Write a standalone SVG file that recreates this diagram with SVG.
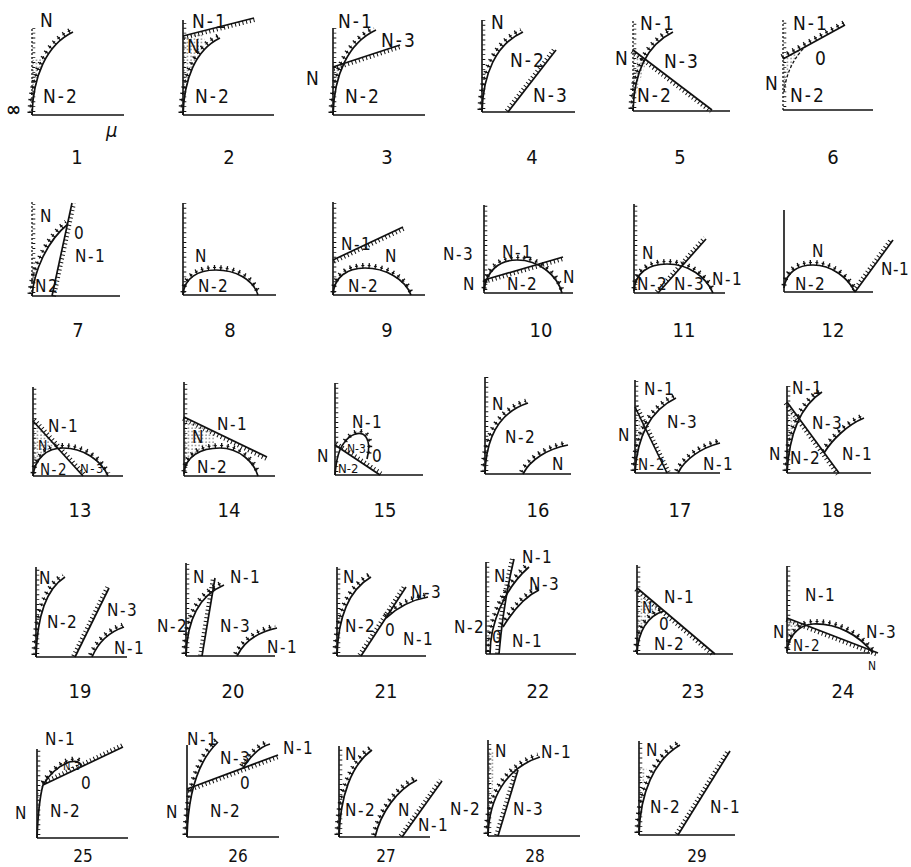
<svg xmlns="http://www.w3.org/2000/svg" width="911" height="867" viewBox="0 0 911 867">
<defs>
<style>
.ax{fill:none;stroke:#111;stroke-width:1.6}
.ad{fill:none;stroke:#111;stroke-width:1.3;stroke-dasharray:2 2}
.yt{fill:none;stroke:#111;stroke-width:3;stroke-dasharray:0.9 4}
.l{fill:none;stroke:#111;stroke-width:1.7}
.ld{fill:none;stroke:#111;stroke-width:1.3;stroke-dasharray:3 2}
.h{fill:none;stroke:#111;stroke-width:4;stroke-dasharray:1 2.8}
.c{fill:none;stroke:#111;stroke-width:5;stroke-dasharray:1.3 5}
.cb{fill:none;stroke:#111;stroke-width:1.1;stroke-dasharray:3 3.3;stroke-dashoffset:0.85}
.s{fill:url(#dt);stroke:none}
text{font-family:"Liberation Sans Narrow","DejaVu Sans Condensed","Liberation Sans",sans-serif;fill:#111}
.t{font-size:17px;letter-spacing:1.5px}
.t1{font-size:19px;letter-spacing:2px}
.n{font-size:20px;text-anchor:middle}
</style>
<pattern id="dt" width="3.5" height="3.5" patternUnits="userSpaceOnUse"><circle cx="1" cy="1" r="0.6" fill="#111"/></pattern>
</defs>
<rect width="911" height="867" fill="#fff"/>

<g id="p1" transform="translate(32,115)">
<path class="s" d="M0,-5 L0,-55 L12,-57 L7,-42 L3,-25 Z"/>
<path class="ax" d="M0,0 H92"/><path class="ad" d="M0,0 V-87"/><path class="yt" d="M1.8,-3 V-87"/>
<path class="l" d="M0,0 C1,-38 14,-70 41,-83"/>
<g transform="translate(-2,-2)"><path class="c" d="M0,0 C1,-38 14,-70 41,-83"/><path class="cb" d="M0,0 C1,-38 14,-70 41,-83"/></g>
<text class="t1" x="8" y="-88">N</text><text class="t1" x="11" y="-12">N-2</text>
<text x="-26" y="1" style="font-size:20px;font-weight:bold">∞</text><text x="74" y="22" style="font-size:20px;font-style:italic">μ</text>
</g>

<g id="p2" transform="translate(183,115)">
<path class="s" d="M0,-5 L0,-79 L20,-84 L22,-72 L9,-48 L2,-20 Z"/>
<path class="ax" d="M0,0 H91 M0,0 V-95"/><path class="yt" d="M1.8,-3 V-95"/>
<path class="l" d="M0,-79 L71,-97"/><path class="h" d="M0,-79 L71,-97" transform="translate(0.5,2)"/>
<path class="l" d="M0,0 C1,-35 12,-65 37,-77"/>
<g transform="translate(-2,-2)"><path class="c" d="M0,0 C1,-35 12,-65 37,-77"/><path class="cb" d="M0,0 C1,-35 12,-65 37,-77"/></g>
<text class="t1" x="9" y="-87">N-1</text><text class="t1" x="4" y="-62">N</text><text class="t1" x="12" y="-12">N-2</text>
</g>

<g id="p3" transform="translate(333,115)">
<path class="s" d="M0,-47 L10,-51 L4,-35 L1,-25 Z"/>
<path class="ax" d="M0,0 H92 M0,0 V-87"/><path class="yt" d="M1.8,-3 V-87"/>
<path class="l" d="M0,0 C1,-40 15,-72 43,-85"/>
<g transform="translate(-2,-2)"><path class="c" d="M0,0 C1,-40 15,-72 43,-85"/><path class="cb" d="M0,0 C1,-40 15,-72 43,-85"/></g>
<path class="l" d="M0,-48 L67,-70"/><path class="h" d="M0,-48 L67,-70" transform="translate(0.6,1.9)"/>
<text class="t1" x="5" y="-87">N-1</text><text class="t1" x="48" y="-68">N-3</text><text class="t1" x="-27" y="-30">N</text><text class="t1" x="12" y="-12">N-2</text>
</g>

<g id="p4" transform="translate(482,112)">
<path class="ax" d="M0,0 H93 M0,0 V-92"/><path class="yt" d="M1.8,-3 V-92"/>
<path class="l" d="M0,0 C1,-38 14,-68 41,-80"/>
<g transform="translate(-2,-2)"><path class="c" d="M0,0 C1,-38 14,-68 41,-80"/><path class="cb" d="M0,0 C1,-38 14,-68 41,-80"/></g>
<path class="l" d="M26,0 L74,-62"/><path class="h" d="M26,0 L74,-62" transform="translate(-1.6,-1.2)"/>
<text class="t1" x="9" y="-83">N</text><text class="t1" x="28" y="-45">N-2</text><text class="t1" x="51" y="-10">N-3</text>
</g>

<g id="p5" transform="translate(633,111)">
<path class="s" d="M0,-5 L0,-61 L14,-51 L7,-30 L2,-12 Z"/>
<path class="ax" d="M0,0 H97"/><path class="ad" d="M0,0 V-91"/><path class="yt" d="M1.8,-3 V-91"/>
<path class="l" d="M0,0 C1,-38 14,-66 40,-79"/>
<g transform="translate(-2,-2)"><path class="c" d="M0,0 C1,-38 14,-66 40,-79"/><path class="cb" d="M0,0 C1,-38 14,-66 40,-79"/></g>
<path class="l" d="M0,-61 L79,-1"/><path class="h" d="M0,-61 L79,-1" transform="translate(-1.2,1.6)"/>
<text class="t1" x="7" y="-81">N-1</text><text class="t1" x="-18" y="-46">N</text><text class="t1" x="31" y="-43">N-3</text><text class="t1" x="4" y="-9">N-2</text>
</g>

<g id="p6" transform="translate(783,110)">
<path class="s" d="M0,-51 L22,-63 Q4,-45 1,-18 Z"/>
<path class="ax" d="M0,0 H90"/><path class="ad" d="M0,0 V-90"/><path class="yt" d="M1.8,-3 V-90"/>
<path class="l" d="M0,-51 L62,-85"/>
<g transform="translate(-1.2,-2.2)"><path class="c" d="M0,-51 L62,-85"/><path class="cb" d="M0,-51 L62,-85"/></g>
<path class="ld" d="M1,-18 Q4,-45 22,-63"/>
<text class="t1" x="10" y="-80">N-1</text><text class="t1" x="32" y="-45">0</text><text class="t1" x="-18" y="-20">N</text><text class="t1" x="7" y="-8">N-2</text>
</g>

<g id="p7" transform="translate(32,296)">
<path class="s" d="M0,-3 L0,-30 L5,-25 L3,-10 Z"/>
<path class="ax" d="M0,0 H88"/><path class="ad" d="M0,0 V-94"/><path class="yt" d="M1.8,-3 V-94"/>
<path class="l" d="M20,0 L40,-93"/><path class="h" d="M20,0 L40,-93" transform="translate(2,0.4)"/>
<path class="l" d="M0,0 C2,-25 15,-55 36,-72"/>
<g transform="translate(-2,-2)"><path class="c" d="M0,0 C2,-25 15,-55 36,-72"/><path class="cb" d="M0,0 C2,-25 15,-55 36,-72"/></g>
<text class="t" x="8" y="-74">N</text><text class="t" x="42" y="-57">0</text><text class="t" x="43" y="-34">N-1</text><text class="t" x="3" y="-4">N2</text>
</g>

<g id="p8" transform="translate(183,295)">
<path class="ax" d="M0,0 H93 M0,0 V-92"/><path class="yt" d="M1.8,-3 V-92"/>
<path class="l" d="M0,0 C1,-17 15,-25 33,-25 C52,-25 70,-16 75,0"/>
<g transform="translate(0,-2.5)"><path class="c" d="M0,0 C1,-17 15,-25 33,-25 C52,-25 70,-16 75,0"/><path class="cb" d="M0,0 C1,-17 15,-25 33,-25 C52,-25 70,-16 75,0"/></g>
<text class="t" x="12" y="-33">N</text><text class="t" x="15" y="-3">N-2</text>
</g>

<g id="p9" transform="translate(333,295)">
<path class="ax" d="M0,0 H92 M0,0 V-93"/><path class="yt" d="M1.8,-3 V-93"/>
<path class="l" d="M0,-35 L70,-68"/><path class="h" d="M0,-35 L70,-68" transform="translate(0.9,1.8)"/>
<path class="l" d="M0,0 C1,-18 14,-27 32,-27 C52,-27 72,-16 78,0"/>
<g transform="translate(0,-2.5)"><path class="c" d="M0,0 C1,-18 14,-27 32,-27 C52,-27 72,-16 78,0"/><path class="cb" d="M0,0 C1,-18 14,-27 32,-27 C52,-27 72,-16 78,0"/></g>
<text class="t" x="8" y="-45">N-1</text><text class="t" x="52" y="-33">N</text><text class="t" x="15" y="-3">N-2</text>
</g>

<g id="p10" transform="translate(484,293)">
<path class="ax" d="M0,0 H89 M0,0 V-88"/><path class="yt" d="M1.8,-3 V-88"/>
<path class="l" d="M0,-2 C2,-22 15,-33 33,-33 C55,-33 73,-18 78,0"/>
<g transform="translate(0,-2.5)"><path class="c" d="M0,-2 C2,-22 15,-33 33,-33 C55,-33 73,-18 78,0"/><path class="cb" d="M0,-2 C2,-22 15,-33 33,-33 C55,-33 73,-18 78,0"/></g>
<path class="l" d="M0,-13 L79,-36"/><path class="h" d="M0,-13 L79,-36" transform="translate(0.6,1.9)"/>
<text class="t" x="18" y="-35">N-1</text><text class="t" x="23" y="-3">N-2</text><text class="t" x="79" y="-10">N</text><text class="t" x="-21" y="-3">N</text><text class="t" x="-41" y="-33">N-3</text>
</g>

<g id="p11" transform="translate(634,293)">
<path class="ax" d="M0,0 H91 M0,0 V-89"/><path class="yt" d="M1.8,-3 V-89"/>
<path class="l" d="M0,-2 C1,-20 14,-29 33,-29 C55,-29 72,-16 79,0"/>
<g transform="translate(0,-2.5)"><path class="c" d="M0,-2 C1,-20 14,-29 33,-29 C55,-29 72,-16 79,0"/><path class="cb" d="M0,-2 C1,-20 14,-29 33,-29 C55,-29 72,-16 79,0"/></g>
<path class="l" d="M24,0 L72,-54"/><path class="h" d="M24,0 L72,-54" transform="translate(-1.5,-1.3)"/>
<text class="t" x="8" y="-34">N</text><text class="t" x="3" y="-3">N-2</text><text class="t" x="40" y="-3">N-3</text><text class="t" x="78" y="-8">N-1</text>
</g>

<g id="p12" transform="translate(784,292)">
<path class="ax" d="M0,0 H89 M0,0 V-82"/>
<path class="l" d="M0,-4 C2,-20 14,-27 29,-27 C48,-27 64,-14 71,0"/>
<g transform="translate(0,-2.5)"><path class="c" d="M0,-4 C2,-20 14,-27 29,-27 C48,-27 64,-14 71,0"/><path class="cb" d="M0,-4 C2,-20 14,-27 29,-27 C48,-27 64,-14 71,0"/></g>
<path class="l" d="M71,0 L109,-52"/><path class="h" d="M71,0 L109,-52" transform="translate(-1.6,-1.2)"/>
<text class="t" x="28" y="-35">N</text><text class="t" x="11" y="-2">N-2</text><text class="t" x="97" y="-17" style="letter-spacing:0.5px">N-1</text>
</g>

<g id="p13" transform="translate(33,476)">
<path class="s" d="M0,-55 L25,-27.5 C12,-27 3,-20 0,-3 Z"/>
<path class="ax" d="M0,0 H90 M0,0 V-89"/><path class="yt" d="M1.8,-3 V-89"/>
<path class="l" d="M0,-55 L50,0"/><path class="h" d="M0,-55 L50,0" transform="translate(1.5,-1.4)"/>
<path class="l" d="M0,0 C2,-18 14,-28 30,-28 C50,-28 68,-16 75,0"/>
<g transform="translate(0,-2.5)"><path class="c" d="M0,0 C2,-18 14,-28 30,-28 C50,-28 68,-16 75,0"/><path class="cb" d="M0,0 C2,-18 14,-28 30,-28 C50,-28 68,-16 75,0"/></g>
<text class="t" x="15" y="-44">N-1</text><text class="t" x="5" y="-26" style="font-size:14px">N</text><text class="t" x="7" y="-1" style="font-size:15px">N-2</text><text class="t" x="47" y="-3" style="font-size:13px">N-3</text>
</g>

<g id="p14" transform="translate(184,476)">
<path class="s" d="M0,-59 L30,-44.5 L30,-29 C15,-27 2,-20 0,-3 Z"/>
<path class="ax" d="M0,0 H91 M0,0 V-94"/><path class="yt" d="M1.8,-3 V-94"/>
<path class="l" d="M0,-59 L83,-19"/><path class="h" d="M0,-59 L83,-19" transform="translate(-0.9,1.8)"/>
<path class="l" d="M0,-2 C1,-20 17,-28 36,-28 C55,-28 70,-14 74,0"/>
<g transform="translate(0,-2.5)"><path class="c" d="M0,-2 C1,-20 17,-28 36,-28 C55,-28 70,-14 74,0"/><path class="cb" d="M0,-2 C1,-20 17,-28 36,-28 C55,-28 70,-14 74,0"/></g>
<text class="t" x="33" y="-46">N-1</text><text class="t" x="8" y="-33">N</text><text class="t" x="13" y="-3">N-2</text>
</g>

<g id="p15" transform="translate(335,475)">
<path class="ax" d="M0,0 H88 M0,0 V-92"/><path class="yt" d="M1.8,-3 V-92"/>
<path class="l" d="M0,-30 L45,0"/><path class="h" d="M0,-30 L45,0" transform="translate(1.1,-1.7)"/>
<path class="l" d="M0,0 C1,-14 4,-26 9,-32"/>
<path class="l" d="M9,-32 C15,-41 26,-45 31,-38 C35,-33 34,-24 32,-16"/>
<g transform="translate(1,-2)"><path class="c" d="M9,-32 C15,-41 26,-45 31,-38 C35,-33 34,-24 32,-16"/><path class="cb" d="M9,-32 C15,-41 26,-45 31,-38 C35,-33 34,-24 32,-16"/></g>
<text class="t" x="17" y="-47">N-1</text><text class="t" x="12" y="-22" style="font-size:12px;letter-spacing:0">N-3</text><text class="t" x="37" y="-13">0</text><text class="t" x="-18" y="-13">N</text><text class="t" x="3" y="-2" style="font-size:13px;letter-spacing:0">N-2</text>
</g>

<g id="p16" transform="translate(485,474)">
<path class="ax" d="M0,0 H86 M0,0 V-97"/><path class="yt" d="M1.8,-3 V-97"/>
<path class="l" d="M0,0 C1,-38 15,-62 43,-71"/>
<g transform="translate(-2,-2)"><path class="c" d="M0,0 C1,-38 15,-62 43,-71"/><path class="cb" d="M0,0 C1,-38 15,-62 43,-71"/></g>
<path class="l" d="M38,0 C45,-14 62,-25 83,-29"/>
<g transform="translate(-1.5,-2)"><path class="c" d="M38,0 C45,-14 62,-25 83,-29"/><path class="cb" d="M38,0 C45,-14 62,-25 83,-29"/></g>
<text class="t" x="7" y="-64">N</text><text class="t" x="20" y="-31">N-2</text><text class="t" x="67" y="-4">N</text>
</g>

<g id="p17" transform="translate(635,473)">
<path class="s" d="M0,-66 L11,-43 C5,-30 1,-15 0,-3 Z"/>
<path class="ax" d="M0,0 H85 M0,0 V-93"/><path class="yt" d="M1.8,-3 V-93"/>
<path class="l" d="M0,0 C2,-35 14,-62 41,-75"/>
<g transform="translate(-2,-2)"><path class="c" d="M0,0 C2,-35 14,-62 41,-75"/><path class="cb" d="M0,0 C2,-35 14,-62 41,-75"/></g>
<path class="l" d="M0,-66 L32,0"/><path class="h" d="M0,-66 L32,0" transform="translate(1.8,-0.9)"/>
<path class="l" d="M43,0 C50,-14 66,-25 85,-30"/>
<g transform="translate(-1.5,-2)"><path class="c" d="M43,0 C50,-14 66,-25 85,-30"/><path class="cb" d="M43,0 C50,-14 66,-25 85,-30"/></g>
<text class="t" x="9" y="-78">N-1</text><text class="t" x="32" y="-45">N-3</text><text class="t" x="-17" y="-32">N</text><text class="t" x="3" y="-3" style="font-size:15px">N-2</text><text class="t" x="68" y="-3">N-1</text>
</g>

<g id="p18" transform="translate(787,473)">
<path class="s" d="M0,-71 L12,-55 C6,-42 1,-20 0,-3 Z"/>
<path class="ax" d="M0,0 H84 M0,0 V-87"/><path class="yt" d="M1.8,-3 V-87"/>
<path class="l" d="M0,0 C2,-35 12,-66 35,-81"/>
<g transform="translate(-2,-2)"><path class="c" d="M0,0 C2,-35 12,-66 35,-81"/><path class="cb" d="M0,0 C2,-35 12,-66 35,-81"/></g>
<path class="l" d="M0,-71 L52,0"/><path class="h" d="M0,-71 L52,0" transform="translate(-1.6,1.2)"/>
<path class="l" d="M37,-20 C45,-33 60,-48 77,-55"/>
<g transform="translate(-1.5,-2)"><path class="c" d="M37,-20 C45,-33 60,-48 77,-55"/><path class="cb" d="M37,-20 C45,-33 60,-48 77,-55"/></g>
<text class="t" x="5" y="-79">N-1</text><text class="t" x="25" y="-44">N-3</text><text class="t" x="-18" y="-13">N</text><text class="t" x="3" y="-9">N-2</text><text class="t" x="55" y="-13">N-1</text>
</g>

<g id="p19" transform="translate(36,657)">
<path class="ax" d="M0,0 H91 M0,0 V-90"/><path class="yt" d="M1.8,-3 V-90"/>
<path class="l" d="M0,0 C1,-40 10,-68 29,-80"/>
<g transform="translate(-2,-2)"><path class="c" d="M0,0 C1,-40 10,-68 29,-80"/><path class="cb" d="M0,0 C1,-40 10,-68 29,-80"/></g>
<path class="l" d="M39,0 L73,-69"/><path class="h" d="M39,0 L73,-69" transform="translate(-1.8,-0.9)"/>
<path class="l" d="M56,0 C62,-14 73,-25 88,-30"/>
<g transform="translate(-1.5,-2)"><path class="c" d="M56,0 C62,-14 73,-25 88,-30"/><path class="cb" d="M56,0 C62,-14 73,-25 88,-30"/></g>
<text class="t" x="3" y="-73">N</text><text class="t" x="11" y="-29">N-2</text><text class="t" x="71" y="-41">N-3</text><text class="t" x="78" y="-3">N-1</text>
</g>

<g id="p20" transform="translate(186,656)">
<path class="ax" d="M0,0 H89 M0,0 V-93"/><path class="yt" d="M1.8,-3 V-93"/>
<path class="l" d="M0,0 C1,-35 12,-60 38,-71"/>
<g transform="translate(-2,-2)"><path class="c" d="M0,0 C1,-35 12,-60 38,-71"/><path class="cb" d="M0,0 C1,-35 12,-60 38,-71"/></g>
<path class="l" d="M16,0 L29,-78"/><path class="h" d="M16,0 L29,-78" transform="translate(-2,-0.3)"/>
<path class="l" d="M51,0 C58,-14 72,-24 91,-28"/>
<g transform="translate(-1.5,-2)"><path class="c" d="M51,0 C58,-14 72,-24 91,-28"/><path class="cb" d="M51,0 C58,-14 72,-24 91,-28"/></g>
<text class="t" x="7" y="-73">N</text><text class="t" x="44" y="-73">N-1</text><text class="t" x="-29" y="-24">N-2</text><text class="t" x="34" y="-24">N-3</text><text class="t" x="81" y="-3">N-1</text>
</g>

<g id="p21" transform="translate(337,656)">
<path class="ax" d="M0,0 H89 M0,0 V-89"/><path class="yt" d="M1.8,-3 V-89"/>
<path class="l" d="M0,0 C1,-40 12,-66 34,-79"/>
<g transform="translate(-2,-2)"><path class="c" d="M0,0 C1,-40 12,-66 34,-79"/><path class="cb" d="M0,0 C1,-40 12,-66 34,-79"/></g>
<path class="l" d="M24,0 L69,-69"/><path class="h" d="M24,0 L69,-69" transform="translate(-1.7,-1.1)"/>
<path class="l" d="M49,-38 C60,-48 74,-56 91,-59"/>
<g transform="translate(-1,-2.2)"><path class="c" d="M49,-38 C60,-48 74,-56 91,-59"/><path class="cb" d="M49,-38 C60,-48 74,-56 91,-59"/></g>
<text class="t" x="6" y="-73">N</text><text class="t" x="74" y="-58">N-3</text><text class="t" x="8" y="-24">N-2</text><text class="t" x="48" y="-20">0</text><text class="t" x="66" y="-11">N-1</text>
</g>

<g id="p22" transform="translate(486,654)">
<path class="ax" d="M0,0 H90 M0,0 V-92"/><path class="yt" d="M1.8,-3 V-92"/>
<path class="l" d="M13,0 C16,-35 22,-70 28,-95"/><path class="h" d="M13,0 C16,-35 22,-70 28,-95" transform="translate(-2,-0.3)"/>
<path class="l" d="M4,0 C4,-30 18,-65 43,-87"/>
<g transform="translate(-2,-2)"><path class="c" d="M4,0 C4,-30 18,-65 43,-87"/><path class="cb" d="M4,0 C4,-30 18,-65 43,-87"/></g>
<path class="l" d="M17,-27 C28,-45 40,-58 53,-64"/>
<g transform="translate(-1.5,-2)"><path class="c" d="M17,-27 C28,-45 40,-58 53,-64"/><path class="cb" d="M17,-27 C28,-45 40,-58 53,-64"/></g>
<text class="t" x="8" y="-72">N</text><text class="t" x="36" y="-91">N-1</text><text class="t" x="43" y="-64">N-3</text><text class="t" x="-32" y="-21">N-2</text><text class="t" x="6" y="-11">0</text><text class="t" x="26" y="-7">N-1</text>
</g>

<g id="p23" transform="translate(637,654)">
<path class="s" d="M0,-66 L27,-43 C10,-38 1,-22 0,-3 Z"/>
<path class="ax" d="M0,0 H96 M0,0 V-89"/><path class="yt" d="M1.8,-3 V-89"/>
<path class="l" d="M0,-66 L78,0"/><path class="h" d="M0,-66 L78,0" transform="translate(-1.3,1.5)"/>
<path class="l" d="M0,0 C1,-22 10,-38 27,-43"/>
<g transform="translate(-1.5,-2)"><path class="c" d="M0,0 C1,-22 10,-38 27,-43"/><path class="cb" d="M0,0 C1,-22 10,-38 27,-43"/></g>
<text class="t" x="27" y="-51">N-1</text><text class="t" x="5" y="-41" style="font-size:15px">N</text><text class="t" x="22" y="-24">0</text><text class="t" x="17" y="-4">N-2</text>
</g>

<g id="p24" transform="translate(787,653)">
<path class="s" d="M0,-35 L20,-27.3 C10,-26 2,-16 0,-3 Z"/>
<path class="ax" d="M0,0 H83 M0,0 V-87"/><path class="yt" d="M1.8,-3 V-87"/>
<path class="l" d="M0,-35 L91,0"/><path class="h" d="M0,-35 L91,0" transform="translate(-0.7,1.9)"/>
<path class="l" d="M0,-2 C2,-18 12,-28 26,-29 C50,-30 72,-18 86,0"/>
<g transform="translate(0,-2.5)"><path class="c" d="M0,-2 C2,-18 12,-28 26,-29 C50,-30 72,-18 86,0"/><path class="cb" d="M0,-2 C2,-18 12,-28 26,-29 C50,-30 72,-18 86,0"/></g>
<text class="t" x="18" y="-52">N-1</text><text class="t" x="-14" y="-15">N</text><text class="t" x="79" y="-15">N-3</text><text class="t" x="6" y="-2" style="font-size:15px">N-2</text><text class="t" x="81" y="17" style="font-size:12px">N</text>
</g>

<g id="p25" transform="translate(37,838)">
<path class="s" d="M0,-48 L6,-53 C3,-40 1,-25 0,-10 Z"/>
<path class="ax" d="M0,0 H91 M0,0 V-89"/><path class="yt" d="M1.8,-3 V-89"/>
<path class="l" d="M0,0 C1,-25 3,-42 6,-53"/>
<path class="l" d="M6,-53 L86,-91"/><path class="h" d="M6,-53 L86,-91" transform="translate(-0.9,-1.8)"/>
<path class="l" d="M6,-53 C12,-63 22,-72 32,-76 C40,-78 45,-75 44,-71"/>
<g transform="translate(0,-2.2)"><path class="c" d="M6,-53 C12,-63 22,-72 32,-76 C40,-78 45,-75 44,-71"/><path class="cb" d="M6,-53 C12,-63 22,-72 32,-76 C40,-78 45,-75 44,-71"/></g>
<text class="t" x="8" y="-93">N-1</text><text class="t" x="26" y="-68" style="font-size:11px;letter-spacing:0">N-3</text><text class="t" x="44" y="-49">0</text><text class="t" x="-22" y="-19">N</text><text class="t" x="13" y="-21">N-2</text>
</g>

<g id="p26" transform="translate(187,837)">
<path class="s" d="M0,-48 L6,-50 C3,-35 1,-20 0,-10 Z"/>
<path class="ax" d="M0,0 H92 M0,0 V-92"/>
<path class="l" d="M0,0 C1,-40 10,-75 31,-95"/>
<g transform="translate(-2,-2)"><path class="c" d="M0,0 C1,-40 10,-75 31,-95"/><path class="cb" d="M0,0 C1,-40 10,-75 31,-95"/></g>
<path class="l" d="M0,-48 L91,-82"/><path class="h" d="M0,-48 L91,-82" transform="translate(0.7,1.9)"/>
<path class="l" d="M56,-69 C63,-80 72,-90 83,-93"/>
<g transform="translate(-1.5,-2)"><path class="c" d="M56,-69 C63,-80 72,-90 83,-93"/><path class="cb" d="M56,-69 C63,-80 72,-90 83,-93"/></g>
<text class="t" x="0" y="-92">N-1</text><text class="t" x="33" y="-73">N-3</text><text class="t" x="96" y="-83">N-1</text><text class="t" x="53" y="-48">0</text><text class="t" x="-21" y="-19">N</text><text class="t" x="23" y="-20">N-2</text>
</g>

<g id="p27" transform="translate(339,837)">
<path class="ax" d="M0,0 H91 M0,0 V-91"/><path class="yt" d="M1.8,-3 V-91"/>
<path class="l" d="M0,0 C1,-40 12,-72 33,-87"/>
<g transform="translate(-2,-2)"><path class="c" d="M0,0 C1,-40 12,-72 33,-87"/><path class="cb" d="M0,0 C1,-40 12,-72 33,-87"/></g>
<path class="l" d="M36,0 C42,-25 58,-47 78,-57"/>
<g transform="translate(-1.5,-2)"><path class="c" d="M36,0 C42,-25 58,-47 78,-57"/><path class="cb" d="M36,0 C42,-25 58,-47 78,-57"/></g>
<path class="l" d="M63,0 L103,-56"/><path class="h" d="M63,0 L103,-56" transform="translate(-1.6,-1.2)"/>
<text class="t" x="6" y="-77">N</text><text class="t" x="6" y="-21">N-2</text><text class="t" x="59" y="-21">N</text><text class="t" x="79" y="-6">N-1</text>
</g>

<g id="p28" transform="translate(488,836)">
<path class="s" d="M0,-8 L0,-85 L6,-85 L6,-60 L3,-30 Z"/>
<path class="ax" d="M0,0 H92 M0,0 V-96"/><path class="yt" d="M1.8,-3 V-96"/>
<path class="l" d="M0,0 C1,-38 18,-68 52,-79"/>
<g transform="translate(-2,-2)"><path class="c" d="M0,0 C1,-38 18,-68 52,-79"/><path class="cb" d="M0,0 C1,-38 18,-68 52,-79"/></g>
<path class="l" d="M10,0 L30,-66"/><path class="h" d="M10,0 L30,-66" transform="translate(-1.9,-0.6)"/>
<text class="t" x="7" y="-79">N</text><text class="t" x="53" y="-78">N-1</text><text class="t" x="-38" y="-21">N-2</text><text class="t" x="25" y="-21">N-3</text>
</g>

<g id="p29" transform="translate(639,835)">
<path class="s" d="M0,-35 L0,-68 L8,-68 L3,-48 Z"/>
<path class="ax" d="M0,0 H96 M0,0 V-94"/><path class="yt" d="M1.8,-3 V-94"/>
<path class="l" d="M0,0 C1,-42 15,-75 41,-90"/>
<g transform="translate(-2,-2)"><path class="c" d="M0,0 C1,-42 15,-75 41,-90"/><path class="cb" d="M0,0 C1,-42 15,-75 41,-90"/></g>
<path class="l" d="M39,0 L91,-84"/><path class="h" d="M39,0 L91,-84" transform="translate(-1.7,-1.1)"/>
<text class="t" x="7" y="-79">N</text><text class="t" x="11" y="-22">N-2</text><text class="t" x="71" y="-22">N-1</text>
</g>

<g id="numbers">
<text class="n" x="77" y="164">1</text><text class="n" x="229" y="164">2</text><text class="n" x="387" y="164">3</text><text class="n" x="532" y="164">4</text><text class="n" x="680" y="164">5</text><text class="n" x="833" y="164">6</text>
<text class="n" x="78" y="337">7</text><text class="n" x="230" y="337">8</text><text class="n" x="387" y="337">9</text><text class="n" x="541" y="337">10</text><text class="n" x="684" y="337">11</text><text class="n" x="833" y="337">12</text>
<text class="n" x="80" y="517">13</text><text class="n" x="229" y="517">14</text><text class="n" x="385" y="517">15</text><text class="n" x="538" y="517">16</text><text class="n" x="680" y="517">17</text><text class="n" x="833" y="517">18</text>
<text class="n" x="80" y="698">19</text><text class="n" x="233" y="698">20</text><text class="n" x="386" y="698">21</text><text class="n" x="538" y="698">22</text><text class="n" x="693" y="698">23</text><text class="n" x="843" y="698">24</text>
<text class="n" x="83" y="862" style="font-size:17px">25</text><text class="n" x="238" y="862" style="font-size:17px">26</text><text class="n" x="386" y="862" style="font-size:17px">27</text><text class="n" x="535" y="862" style="font-size:17px">28</text><text class="n" x="697" y="862" style="font-size:17px">29</text>
</g>
</svg>
